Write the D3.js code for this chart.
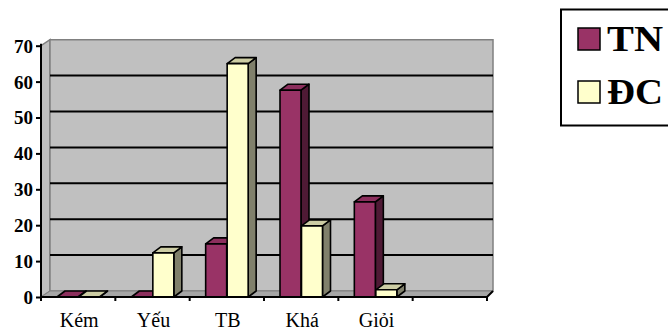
<!DOCTYPE html>
<html>
<head>
<meta charset="utf-8">
<script src="https://cdn.jsdelivr.net/npm/d3@7"></script>
<style>
  html, body { margin: 0; padding: 0; background: #fff; overflow: hidden; }
  svg { display: block; }
  svg text { font-family: "Liberation Serif", "Times New Roman", Times, serif !important; }
</style>
</head>
<body>
<svg id="chart" width="668" height="331"></svg>
<script>
// Score bands and the two groups (TN: experimental, ĐC: control), in %
const categories = ["Kém", "Yếu", "TB", "Khá", "Giỏi"];
const seriesNames = ["TN", "ĐC"];
const tnValues = [0, 0, 14.8, 57.6, 26.5];
const dcValues = [0, 12.3, 65, 19.8, 2];
const yTicks = [0, 10, 20, 30, 40, 50, 60, 70];

const svg = d3.select("#chart");

// Plot geometry (front plane) and 3D depth offsets
const left = 41, right = 487, bottom = 297;
const wallDx = 9, wallDy = -6;   // depth of the walls
const barDx = 8, barDy = -6;     // depth of each column

const bandKeys = categories.concat([""]);  // trailing empty slot on the axis
const x = d3.scaleBand().domain(bandKeys.map((d, i) => i)).range([left, right]).paddingInner(0).paddingOuter(0);
const y = d3.scaleLinear().domain([0, 70]).range([bottom, 45.7]);

const colors = {
  TN: { front: "#993366", top: "#8c2f5d", side: "#4f1a35" },
  "ĐC": { front: "#ffffcc", top: "#cdcda4", side: "#80806b" }
};

// ---- walls ----
const topY = y(70);
const backRight = right + wallDx - 3;
const wall = svg.append("g");
// left wall
wall.append("polygon")
  .attr("points", [[left, bottom], [left, topY], [left + wallDx, topY + wallDy], [left + wallDx, bottom + wallDy]].join(" "))
  .attr("fill", "#c0c0c0").attr("stroke", "#808080").attr("stroke-width", 1.5);
// back wall
wall.append("polygon")
  .attr("points", [[left + wallDx, topY + wallDy], [backRight, topY + wallDy], [backRight, bottom + wallDy], [left + wallDx, bottom + wallDy]].join(" "))
  .attr("fill", "#c0c0c0").attr("stroke", "#808080").attr("stroke-width", 1.5);
// floor
wall.append("polygon")
  .attr("points", [[left, bottom], [left + wallDx, bottom + wallDy], [backRight, bottom + wallDy], [right, bottom]].join(" "))
  .attr("fill", "#a6a6a6").attr("stroke", "#808080").attr("stroke-width", 1);

// gridlines on the back wall
wall.selectAll("line.grid")
  .data(yTicks.filter(t => t > 0 && t < 70))
  .join("line")
  .attr("class", "grid")
  .attr("x1", left + wallDx).attr("x2", backRight)
  .attr("y1", d => y(d) + wallDy).attr("y2", d => y(d) + wallDy)
  .attr("stroke", "#000").attr("stroke-width", 2);

// ---- columns ----
const barW = 21;
const series = [
  { name: "TN", values: tnValues, offset: 16 },
  { name: "ĐC", values: dcValues, offset: 37.5 }
];

const bars = svg.append("g");
categories.forEach((cat, i) => {
  series.forEach(s => {
    const v = s.values[i];
    const x0 = x(i) + s.offset, x1 = x0 + barW;
    const yt = y(v), yb = y(0);
    const c = colors[s.name];
    const g = bars.append("g").attr("stroke", "#000").attr("stroke-width", 1.6).attr("stroke-linejoin", "round");
    // side face
    g.append("polygon")
      .attr("points", [[x1, yb], [x1, yt], [x1 + barDx, yt + barDy], [x1 + barDx, yb + barDy]].join(" "))
      .attr("fill", c.side);
    // top face
    g.append("polygon")
      .attr("points", [[x0, yt], [x0 + barDx, yt + barDy], [x1 + barDx, yt + barDy], [x1, yt]].join(" "))
      .attr("fill", c.top);
    // front face
    if (v > 0) {
      g.append("rect")
        .attr("x", x0).attr("y", yt).attr("width", barW).attr("height", yb - yt)
        .attr("fill", c.front);
    }
  });
});

// ---- axes ----
const yAxis = svg.append("g")
  .attr("transform", `translate(${left},0)`)
  .call(d3.axisLeft(y).tickValues(yTicks).tickSize(5).tickPadding(3).tickFormat(d3.format("d")));
yAxis.attr("font-family", null);
yAxis.select(".domain").attr("stroke", "#000").attr("stroke-width", 2).attr("d", `M0,${topY - 2}V${bottom}`);
yAxis.selectAll(".tick line").attr("stroke", "#000").attr("stroke-width", 2);
yAxis.selectAll(".tick text")
  .attr("font-weight", "bold").attr("font-size", 19)
  .attr("fill", "#000").attr("dy", "0.34em");

const xAxis = svg.append("g")
  .attr("transform", `translate(0,${bottom})`)
  .call(d3.axisBottom(x).tickValues([]).tickSize(0));
xAxis.attr("font-family", null);
xAxis.select(".domain").attr("stroke", "#000").attr("stroke-width", 2)
  .attr("d", `M${left},0H${right}L${backRight},${wallDy}`);

// tick marks at the band boundaries
const boundaries = bandKeys.map((d, i) => x(i)).concat([right]);
xAxis.selectAll("line.btick")
  .data(boundaries)
  .join("line")
  .attr("class", "btick")
  .attr("x1", d => d).attr("x2", d => d)
  .attr("y1", 0).attr("y2", 4)
  .attr("stroke", "#000").attr("stroke-width", 2);

xAxis.selectAll("text.cat")
  .data(categories)
  .join("text")
  .attr("class", "cat")
  .attr("x", (d, i) => x(i) + x.bandwidth() / 2 + 1)
  .attr("y", 29.5)
  .attr("text-anchor", "middle")
  .attr("font-size", 20)
  .attr("fill", "#000")
  .text(d => d);

// ---- legend ----
const legend = svg.append("g");
legend.append("rect")
  .attr("x", 561).attr("y", 9.5).attr("width", 112).attr("height", 116)
  .attr("fill", "#fff").attr("stroke", "#000").attr("stroke-width", 2);
const legendRows = legend.selectAll("g.row")
  .data(seriesNames)
  .join("g")
  .attr("class", "row")
  .attr("transform", (d, i) => `translate(0,${i * 53})`);
legendRows.append("rect")
  .attr("x", 578).attr("y", 28).attr("width", 22).attr("height", 22)
  .attr("fill", d => colors[d].front).attr("stroke", "#000").attr("stroke-width", 1.5);
legendRows.append("text")
  .attr("x", 607).attr("y", 50.5)
  .attr("textLength", 56).attr("lengthAdjust", "spacingAndGlyphs")
  .attr("font-weight", "bold").attr("font-size", 35)
  .attr("fill", "#000")
  .text(d => d);
</script>
</body>
</html>
